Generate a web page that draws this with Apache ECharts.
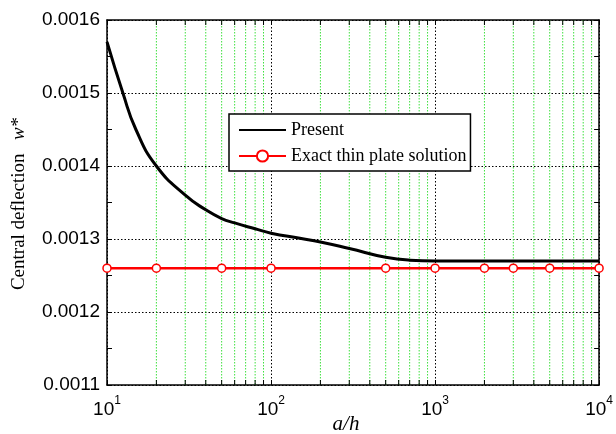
<!DOCTYPE html>
<html>
<head>
<meta charset="utf-8">
<script src="https://cdn.jsdelivr.net/npm/echarts@6/dist/echarts.min.js"></script>
<style>
  html, body { margin: 0; padding: 0; background: #fff; }
  #chart { width: 616px; height: 434px; }
</style>
</head>
<body>
<div id="chart"></div>
<script>
// values
var presentX = [10, 12.5, 15, 20, 30, 40, 50, 60, 80, 100, 150, 200, 300, 500, 700, 1000, 3000, 10000];
var presentY = [0.00157, 0.0015, 0.00145, 0.0014, 0.00136, 0.00134, 0.001328, 0.001322, 0.001314, 0.001308,
                0.001301, 0.001296, 0.001287, 0.001275, 0.001271, 0.00127, 0.00127, 0.00127];
var exactX = [10, 20, 50, 100, 500, 1000, 2000, 3000, 5000, 10000];
var exactY = [0.00126, 0.00126, 0.00126, 0.00126, 0.00126, 0.00126, 0.00126, 0.00126, 0.00126, 0.00126];
// minor log grid lines (2..9 x 10^n)
var minorGridX = [20, 30, 40, 50, 60, 70, 80, 90,
                  200, 300, 400, 500, 600, 700, 800, 900,
                  2000, 3000, 4000, 5000, 6000, 7000, 8000, 9000];
var xMin = 10, xMax = 10000;
var yMin = 0.0011, yMax = 0.0016, yStep = 0.0001;

var SERIF = '"Liberation Serif", "DejaVu Serif", serif';
var SANS = '"Liberation Sans", Arial, sans-serif';

function pairs(xs, ys) {
  var out = [];
  for (var i = 0; i < xs.length; i++) out.push([xs[i], ys[i]]);
  return out;
}

var chart = echarts.init(document.getElementById('chart'), null, { renderer: 'canvas' });

var dotted = { color: '#000', type: [1.5, 2], width: 1 };

chart.setOption({
  animation: false,
  backgroundColor: '#fff',
  grid: { left: 107, right: 15, top: 20, bottom: 49 },
  legend: {
    orient: 'vertical',
    left: 229, top: 114,
    itemWidth: 47, itemHeight: 14, itemGap: 8,
    padding: [7, 4, 6, 9],
    borderColor: '#000', borderWidth: 1.5,
    backgroundColor: '#fff',
    textStyle: { fontFamily: SERIF, fontSize: 18, color: '#000' },
    data: [
      { name: 'Present', itemStyle: { opacity: 0 } },
      { name: 'Exact thin plate solution' }
    ]
  },
  graphic: [
    {
      type: 'text', x: 19, y: 204, rotation: Math.PI / 2,
      style: {
        text: '{n|Central deflection}    {i|w*}',
        align: 'center', verticalAlign: 'middle',
        rich: {
          n: { fontFamily: SERIF, fontSize: 19, fill: '#000' },
          i: { fontFamily: SERIF, fontSize: 19, fontStyle: 'italic', fill: '#000' }
        }
      }
    },
    {
      type: 'text', x: 346, y: 424,
      style: {
        text: 'a/h', align: 'center', verticalAlign: 'middle',
        fontFamily: SERIF, fontSize: 21, fontStyle: 'italic', fill: '#000'
      }
    }
  ],
  xAxis: [
    {
      type: 'log', logBase: 10, min: xMin, max: xMax,
      axisLine: { show: true, lineStyle: { color: '#000', width: 1.5 } },
      axisTick: { show: true, inside: true, length: 5, lineStyle: { color: '#000' } },
      splitLine: { show: true, lineStyle: dotted },
      axisLabel: {
        margin: 10,
        formatter: function (v) {
          return '{b|10}{s|' + Math.round(Math.log10(v)) + '}';
        },
        rich: {
          b: { fontFamily: SANS, fontSize: 19, color: '#000', lineHeight: 24, verticalAlign: 'bottom' },
          s: { fontFamily: SANS, fontSize: 12, color: '#000', lineHeight: 13, verticalAlign: 'top' }
        }
      }
    },
    {
      type: 'log', logBase: 10, min: xMin, max: xMax, position: 'top',
      axisLine: { show: true, lineStyle: { color: '#000', width: 1.5 } },
      axisTick: { show: true, inside: true, length: 5, lineStyle: { color: '#000' } },
      axisLabel: { show: false },
      splitLine: { show: false }
    }
  ],
  yAxis: [
    {
      type: 'value', min: yMin, max: yMax, interval: yStep,
      axisLine: { show: true, lineStyle: { color: '#000', width: 1.5 } },
      axisTick: { show: true, inside: true, length: 5, lineStyle: { color: '#000' } },
      minorTick: { show: true, splitNumber: 2, length: 5, lineStyle: { color: '#000' } },
      splitLine: { show: true, lineStyle: dotted },
      axisLabel: {
        margin: 7,
        fontFamily: SANS, fontSize: 19, color: '#000',
        formatter: function (v) { return v.toFixed(4); }
      }
    },
    {
      type: 'value', min: yMin, max: yMax, interval: yStep, position: 'right',
      axisLine: { show: true, lineStyle: { color: '#000', width: 1.5 } },
      axisTick: { show: true, inside: true, length: 5, lineStyle: { color: '#000' } },
      minorTick: { show: true, splitNumber: 2, length: 5, lineStyle: { color: '#000' } },
      splitLine: { show: false },
      axisLabel: { show: false }
    }
  ],
  series: [
    {
      // green minor grid lines plus minor ticks on bottom and top
      type: 'custom',
      silent: true,
      z: 1,
      xAxisIndex: 0, yAxisIndex: 0,
      data: minorGridX.map(function (v) { return [v, yMin]; }),
      encode: { x: 0, y: 1 },
      renderItem: function (params, api) {
        var x = api.coord([api.value(0), api.value(1)])[0];
        var cs = params.coordSys;
        var top = cs.y, bottom = cs.y + cs.height;
        return {
          type: 'group',
          children: [
            { type: 'line', shape: { x1: x, y1: top, x2: x, y2: bottom },
              style: { stroke: '#3de03d', lineWidth: 1, lineDash: [1.5, 1.5] } },
            { type: 'line', shape: { x1: x, y1: bottom, x2: x, y2: bottom - 5 },
              style: { stroke: '#000', lineWidth: 1 } },
            { type: 'line', shape: { x1: x, y1: top, x2: x, y2: top + 5 },
              style: { stroke: '#000', lineWidth: 1 } }
          ]
        };
      }
    },
    {
      name: 'Present',
      type: 'line',
      z: 3,
      data: pairs(presentX, presentY),
      smooth: true,
      symbol: 'none',
      lineStyle: { color: '#000', width: 3 },
      itemStyle: { color: '#000' }
    },
    {
      name: 'Exact thin plate solution',
      type: 'line',
      z: 4,
      data: pairs(exactX, exactY),
      symbol: 'circle',
      symbolSize: 8,
      lineStyle: { color: '#ff0000', width: 2.5 },
      itemStyle: { color: '#fff', borderColor: '#ff0000', borderWidth: 1.5 }
    }
  ]
});
</script>
</body>
</html>
